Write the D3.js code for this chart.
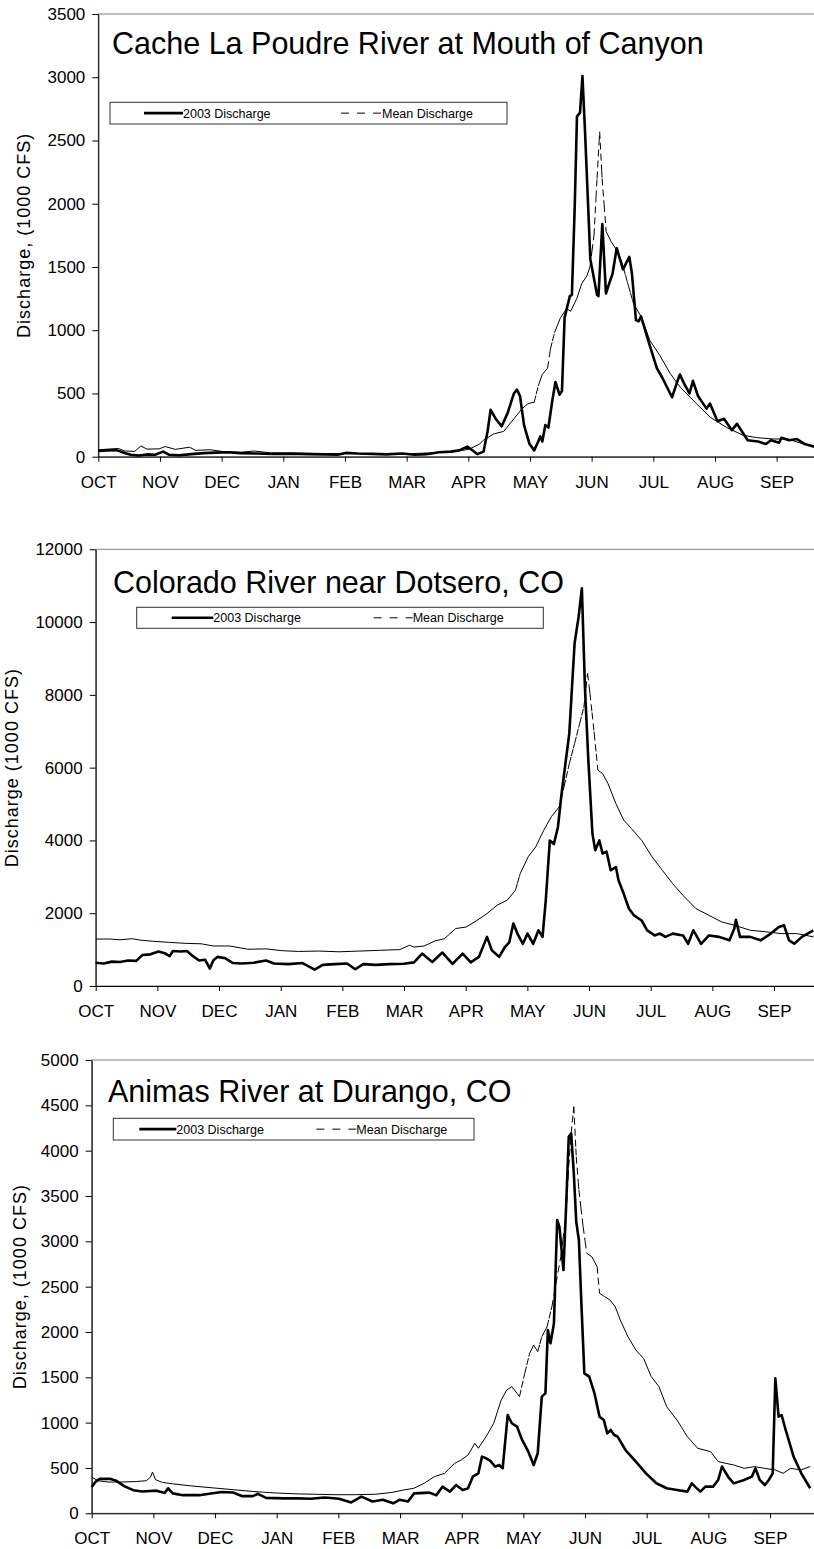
<!DOCTYPE html>
<html>
<head>
<meta charset="utf-8">
<script src="https://cdn.jsdelivr.net/npm/d3@7"></script>
<style>
  body { margin: 0; background: #fff; }
  text { font-family: "Liberation Sans", Arial, sans-serif; fill: #000; }
</style>
</head>
<body>
<script>
// water year months, Oct..Sep
var months = ["OCT", "NOV", "DEC", "JAN", "FEB", "MAR", "APR", "MAY", "JUN", "JUL", "AUG", "SEP"];

// [day of water year, cfs]
var poudreTicks = [0, 500, 1000, 1500, 2000, 2500, 3000, 3500];
var poudreQ2003 = [[0,45],[4,50],[9,52],[13,30],[16,15],[20,10],[24,18],[28,15],[32,40],[35,15],[40,12],[46,20],
  [52,28],[58,32],[64,35],[70,28],[78,25],[86,22],[95,24],[104,20],[112,18],[118,15],[122,30],[128,25],[135,22],
  [142,18],[150,25],[156,15],[162,20],[168,35],[174,40],[178,50],[182,80],[185,45],[187,20],[190,40],[192,200],
  [193.5,370],[196,300],[199,240],[202,350],[205,500],[206.5,530],[208,480],[210,250],[212.7,100],[215,50],
  [217,120],[218,160],[219,120],[220.5,250],[222,230],[224,450],[225.5,590],[227.5,490],[228.7,520],[230,1100],
  [232.6,1270],[233.6,1280],[235,1980],[236.1,2690],[237.6,2720],[238.8,3010],[240,2600],[242.7,1560],[246,1280],
  [246.7,1270],[248.6,1840],[250.4,1290],[251.6,1350],[253.7,1450],[255.7,1650],[258.8,1480],[261.9,1580],
  [263.2,1450],[265.2,1080],[266.5,1070],[267.7,1110],[271.6,900],[275.5,700],[278,630],[283,470],[285.7,600],
  [286.9,650],[288.9,580],[291.6,500],[293.3,600],[295.8,480],[300,380],[301.7,420],[305.4,280],[308.6,300],
  [312.5,210],[315,260],[320.3,130],[325.4,120],[329.3,100],[331.8,130],[335.8,110],[337,150],[340.7,130],
  [344.6,140],[348.4,100],[354,75]];
var poudreMean = [[0,55],[5,60],[10,65],[13,45],[18,42],[21,85],[24,60],[30,62],[33,80],[38,58],[45,75],[48,50],
  [55,55],[62,40],[70,35],[77,45],[85,30],[95,28],[110,25],[125,25],[140,22],[155,25],[165,30],[172,40],[178,45],
  [183,60],[188,100],[190,130],[195,180],[200,200],[205,300],[209,380],[212,420],[215,430],[217,560],[219,650],
  [221.6,700],[223,850],[225,980],[228,1100],[231,1170],[233,1150],[236,1250],[238.5,1370],[241,1430],[242.5,1500],
  [244.5,1750],[246,2200],[247.3,2570],[248.5,2200],[250.5,1780],[253,1700],[255,1650],[258,1550],[261.5,1350],
  [264,1210],[268,1100],[272,920],[277,800],[282,660],[287,550],[295,420],[302,310],[310,230],[318,170],[325,150],
  [333,140],[340,140],[348,100],[354,80]];

var dotseroTicks = [0, 2000, 4000, 6000, 8000, 10000, 12000];
var dotseroQ2003 = [[0,640],[4,620],[8,670],[12,660],[16,700],[20,690],[23,850],[27,870],[31,950],[34,900],
  [36.5,820],[38,960],[42,950],[45,960],[48,820],[51,700],[54,720],[56.3,480],[58,700],[60,800],[64,760],[67.7,630],
  [72,620],[78,640],[84,700],[88,620],[95,600],[102,630],[108,450],[112,580],[118,600],[124,620],[128,460],[132,600],
  [138,580],[145,600],[152,610],[157,650],[161,890],[166,660],[171,920],[176,610],[181,890],[185,650],[189,800],
  [193,1350],[195.4,980],[199,800],[201.8,1070],[204,1200],[206,1715],[208,1440],[210.7,1160],[213,1440],
  [215.8,1160],[218.4,1530],[220.4,1350],[222,2360],[224,4000],[226,3900],[228,4370],[229.8,5290],[233.6,6940],
  [236.2,9410],[238.2,10150],[239.8,10930],[241.3,8220],[243,6200],[245,4190],[246.4,3730],[248.4,4000],[250,3640],
  [252,3690],[254,3180],[256.6,3270],[257.9,2900],[260.4,2540],[263,2130],[265.5,1940],[269.3,1800],[272,1530],
  [275.7,1390],[278.3,1440],[281,1350],[284.6,1440],[289.7,1390],[292.2,1160],[294.8,1530],[298.6,1160],
  [302.5,1390],[307.5,1350],[312.6,1255],[315,1580],[315.8,1820],[317.8,1350],[322.9,1350],[328,1255],[333,1440],
  [337,1620],[339.5,1670],[342,1255],[344.6,1160],[348.3,1350],[354,1530]];
var dotseroMean = [[0,1290],[7,1290],[12,1270],[18,1300],[22,1260],[28,1230],[36,1200],[45,1170],[52,1160],
  [58,1100],[66,1100],[75,1010],[84,1020],[92,970],[100,950],[110,960],[120,940],[130,960],[140,980],[150,1000],
  [154.7,1120],[157,1070],[162,1100],[167.4,1240],[172,1300],[177.6,1580],[182.7,1620],[188,1800],[193,1990],
  [198,2220],[203,2360],[207,2630],[209.4,3090],[213.3,3550],[217,3820],[221,4280],[224.7,4650],[228.6,4920],
  [231,5470],[233.6,6110],[236.2,6660],[238.7,7210],[240.8,7670],[242.6,8590],[243.8,8040],[245.9,6940],
  [247.7,5930],[250,5840],[252.7,5560],[256.6,5010],[260.4,4560],[264.2,4330],[269.3,4000],[274.4,3550],
  [279.5,3180],[284.6,2810],[289.7,2490],[296,2130],[302.5,1940],[308.8,1760],[315,1670],[322.9,1530],
  [330.5,1490],[338,1440],[345.8,1440],[354,1350]];

var animasTicks = [0, 500, 1000, 1500, 2000, 2500, 3000, 3500, 4000, 4500, 5000];
var animasQ2003 = [[0,290],[2,350],[4,380],[9,380],[12,360],[16,300],[20.5,255],[25,240],[32,250],[36,225],
  [37.7,275],[40,220],[45,200],[53,200],[58,215],[64,235],[69.7,230],[74,190],[79.5,190],[82,215],[86,170],[95,165],
  [102,165],[108,160],[115,175],[122,160],[128,120],[133,184],[138.5,130],[143.6,150],[148.7,110],[152,150],
  [156,130],[159,220],[166.5,228],[170,200],[173,294],[176.7,240],[179.7,312],[183,257],[185.6,275],[188,404],
  [190.7,440],[192.5,625],[194.5,607],[196.5,580],[199,515],[201,533],[202.7,496],[205.2,1084],[207.2,993],
  [209.8,956],[212.3,809],[215,698],[218,533],[220,662],[222,1287],[223.8,1323],[225,2022],[226.3,1875],[228,2095],
  [229.6,3235],[230.7,3160],[232.7,2683],[234,3382],[235.3,4154],[236.5,4190],[237.8,3750],[239,3216],[240.3,3014],
  [241.6,2280],[243,1544],[245.4,1507],[248,1323],[250.5,1066],[252.6,1029],[254.3,882],[256,919],[257.7,864],
  [259.4,845],[263.3,698],[268.4,570],[273.4,441],[278.5,331],[283.6,276],[288.7,257],[293.8,239],[296,331],
  [297.6,294],[300.2,239],[302.7,294],[306.5,294],[309,368],[310.9,515],[314,400],[316.7,330],[321.8,368],
  [325.6,404],[327.4,496],[329.5,368],[332,312],[334,368],[335.9,441],[337.2,1489],[338.8,1066],[340.3,1084],
  [342.3,919],[346.2,625],[350,441],[354.4,276]];
var animasMean = [[0,400],[3,360],[8,345],[15,345],[22,350],[27,360],[29,400],[30,455],[31.5,370],[35,340],
  [40,325],[50,300],[60,280],[70,260],[80,240],[90,225],[100,215],[110,210],[120,205],[130,205],[140,210],[148,230],
  [153.8,257],[158.9,276],[164,331],[169,404],[174,441],[179,551],[182.3,588],[185.6,643],[189,772],[190.7,717],
  [194.5,845],[198.3,993],[202,1250],[204.7,1360],[207.2,1397],[209.8,1323],[211,1287],[213.6,1544],[216,1765],
  [218,1856],[220,1783],[222,1948],[224.6,2058],[227,2279],[229,2536],[231.4,2831],[234,3308],[235.3,3823],
  [236.5,4190],[237.8,4485],[239,3933],[240.3,3566],[242.4,3160],[244.2,2867],[246.7,2830],[249.3,2720],
  [250.5,2426],[253,2390],[255.6,2353],[258.2,2280],[260.7,2132],[264.5,1948],[268.4,1801],[272.2,1709],[276,1507],
  [279.8,1397],[283.6,1176],[288.7,1029],[293.8,845],[298.9,717],[305.3,680],[309,570],[312.8,551],[316.7,533],
  [321.8,496],[326.9,515],[332,496],[337.1,478],[341,441],[344.7,496],[349.8,478],[354.4,515]];

var panels = [
  {title: "Cache La Poudre River at Mouth of Canyon", yLabel: "Discharge, (1000 CFS)",
   ticks: poudreTicks, q2003: poudreQ2003, mean: poudreMean,
   left: 98.3, top: 14, bottom: 456.7, titleX: 112, titleY: 54, labelX: 30,
   legend: {x: 110, y: 102.3, w: 397, h: 21.7, solid: [34, 73], dash: [231, 272]}},
  {title: "Colorado River near Dotsero, CO", yLabel: "Discharge (1000 CFS)",
   ticks: dotseroTicks, q2003: dotseroQ2003, mean: dotseroMean,
   left: 95.7, top: 549.3, bottom: 986, titleX: 113, titleY: 593.3, labelX: 17.5,
   legend: {x: 136.7, y: 607.3, w: 406.6, h: 21, solid: [35, 76.6], dash: [237, 276]}},
  {title: "Animas River at Durango, CO", yLabel: "Discharge, (1000 CFS)",
   ticks: animasTicks, q2003: animasQ2003, mean: animasMean,
   left: 91.7, top: 1060, bottom: 1513.3, titleX: 108, titleY: 1101.7, labelX: 26,
   legend: {x: 113.3, y: 1118.3, w: 360.7, h: 21.7, solid: [26, 63], dash: [203, 243]}}
];

var plotW = 740;

// Excel restarts the dash pattern at every daily point, so flat stretches look solid
function dashFor(p) {
  if (p <= 7) return null;
  var arr = [], acc = 0;
  while (acc < p) {
    var d = Math.min(7, p - acc);
    arr.push(d); acc += d;
    if (acc >= p) break;
    var gap = Math.min(4, p - acc);
    arr.push(gap); acc += gap;
  }
  if (arr.length % 2 === 1) arr.push(0);
  return arr.map(function(v) { return v.toFixed(2); }).join(",");
}

var svg = d3.select("body").append("svg")
    .attr("width", 814)
    .attr("height", 1549);

panels.forEach(function(p) {
  var x = d3.scaleLinear().domain([0, 365]).range([p.left, p.left + plotW]);
  var y = d3.scaleLinear().domain([0, d3.max(p.ticks)]).range([p.bottom, p.top]);
  var g = svg.append("g");

  g.append("rect")
      .attr("x", p.left).attr("y", p.top)
      .attr("width", plotW).attr("height", p.bottom - p.top)
      .attr("fill", "none").attr("stroke", "#808080");

  // x axis
  var xAxis = g.append("g")
      .attr("transform", "translate(0," + p.bottom + ")")
      .call(d3.axisBottom(x)
        .tickValues(months.map(function(m, i) { return i * 365 / 12; }))
        .tickFormat(function(d, i) { return months[i]; })
        .tickSize(5).tickSizeOuter(0));
  xAxis.selectAll("text").attr("y", 31).attr("dy", null).style("font-size", "17px");

  // y axis
  var yAxis = g.append("g")
      .attr("transform", "translate(" + p.left + ",0)")
      .call(d3.axisLeft(y).tickValues(p.ticks).tickFormat(d3.format("d"))
        .tickSize(6).tickSizeOuter(0).tickPadding(7));
  yAxis.selectAll("text").style("font-size", "17px");
  g.selectAll(".domain, .tick line").attr("stroke", "#000");

  g.append("text")
      .attr("transform", "translate(" + p.labelX + "," + ((p.top + p.bottom) / 2) + ") rotate(-90)")
      .attr("text-anchor", "middle")
      .style("font-size", "18px")
      .style("letter-spacing", "1px")
      .text(p.yLabel);

  // mean discharge, one segment per pair so the dashes restart
  g.selectAll(".mean")
      .data(d3.pairs(p.mean))
    .join("line")
      .attr("class", "mean")
      .attr("x1", function(d) { return x(d[0][0]); })
      .attr("y1", function(d) { return y(d[0][1]); })
      .attr("x2", function(d) { return x(d[1][0]); })
      .attr("y2", function(d) { return y(d[1][1]); })
      .attr("stroke", "#000")
      .attr("stroke-width", 1)
      .attr("stroke-dasharray", function(d) {
        var len = Math.hypot(x(d[1][0]) - x(d[0][0]), y(d[1][1]) - y(d[0][1]));
        var n = Math.max(1, d[1][0] - d[0][0]);
        return dashFor(len / n);
      });

  // 2003 discharge
  var line = d3.line()
      .x(function(d) { return x(d[0]); })
      .y(function(d) { return y(d[1]); });
  g.append("path")
      .datum(p.q2003)
      .attr("d", line)
      .attr("fill", "none")
      .attr("stroke", "#000")
      .attr("stroke-width", 2.6)
      .attr("stroke-linejoin", "round");

  g.append("text")
      .attr("x", p.titleX).attr("y", p.titleY)
      .style("font-size", "30.5px")
      .text(p.title);

  // legend
  var L = p.legend, ly = L.y + L.h / 2;
  g.append("rect")
      .attr("x", L.x).attr("y", L.y).attr("width", L.w).attr("height", L.h)
      .attr("fill", "#fff").attr("stroke", "#333");
  g.append("line")
      .attr("x1", L.x + L.solid[0]).attr("x2", L.x + L.solid[1])
      .attr("y1", ly).attr("y2", ly)
      .attr("stroke", "#000").attr("stroke-width", 2.6);
  g.append("text")
      .attr("x", L.x + L.solid[1]).attr("y", ly).attr("dy", "0.35em")
      .style("font-size", "12.5px")
      .text("2003 Discharge");
  g.append("line")
      .attr("x1", L.x + L.dash[0]).attr("x2", L.x + L.dash[1])
      .attr("y1", ly).attr("y2", ly)
      .attr("stroke", "#000").attr("stroke-width", 1)
      .attr("stroke-dasharray", "8,8");
  g.append("text")
      .attr("x", L.x + L.dash[1]).attr("y", ly).attr("dy", "0.35em")
      .style("font-size", "12.5px")
      .text("Mean Discharge");
});
</script>
</body>
</html>
